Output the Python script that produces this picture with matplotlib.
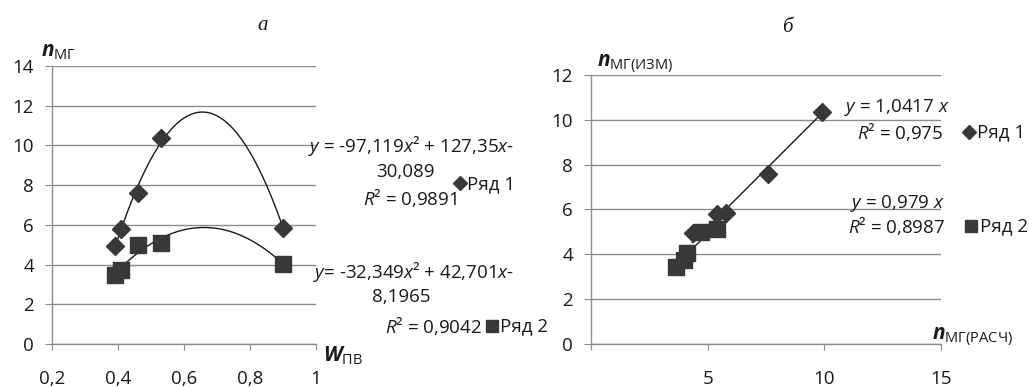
import numpy as np
import matplotlib
matplotlib.use("Agg")
import matplotlib.pyplot as plt
from matplotlib.lines import Line2D

plt.rcParams['font.family'] = ['Open Sans', 'DejaVu Sans']
plt.rcParams['mathtext.fontset'] = 'custom'
plt.rcParams['mathtext.rm'] = 'Open Sans'
plt.rcParams['mathtext.it'] = 'Open Sans:italic'
plt.rcParams['mathtext.bf'] = 'Open Sans:bold:italic'

# ---- data: panel a ----
w_pv = [0.39, 0.41, 0.46, 0.53, 0.90]
n_mg_1 = [4.95, 5.80, 7.60, 10.35, 5.85]
n_mg_2 = [3.45, 3.75, 5.00, 5.10, 4.05]
a_xticks = [0.2, 0.4, 0.6, 0.8, 1.0]
a_xticklabels = ['0,2', '0,4', '0,6', '0,8', '1']
a_yticks = [0, 2, 4, 6, 8, 10, 12, 14]

# ---- data: panel b ----
calc_1 = [4.35, 5.40, 5.80, 7.60, 9.90]
meas_1 = [4.95, 5.80, 5.85, 7.60, 10.35]
calc_2 = [3.65, 4.00, 4.10, 4.70, 5.40]
meas_2 = [3.45, 3.75, 4.05, 5.00, 5.15]
b_xticks = [0, 5, 10, 15]
b_xticklabels = ['', '5', '10', '15']
b_yticks = [0, 2, 4, 6, 8, 10, 12]

series_names = ['Ряд 1', 'Ряд 2']

MK = '#383838'
GRID = '#8c8c8c'
TXT = '#1a1a1a'
FS = 13.5

fig = plt.figure(figsize=(10.30, 3.87), dpi=100)

def style(ax, xlim, ylim, xticks, xticklabels, yticks):
    ax.set_xlim(*xlim)
    ax.set_ylim(*ylim)
    ax.set_xticks(xticks)
    ax.set_xticklabels(xticklabels)
    ax.set_yticks(yticks)
    ax.set_yticklabels([str(v) for v in yticks])
    for s in ['top', 'right']:
        ax.spines[s].set_visible(False)
    for s in ['left', 'bottom']:
        ax.spines[s].set_color(GRID)
        ax.spines[s].set_linewidth(1.0)
    ax.yaxis.grid(True, color=GRID, linewidth=1.0)
    ax.set_axisbelow(True)
    ax.tick_params(axis='y', length=5, color=GRID, labelsize=FS, labelcolor=TXT, pad=8)
    ax.tick_params(axis='x', length=4.5, color=GRID, labelsize=FS, labelcolor=TXT, pad=14)
    ax.patch.set_alpha(0)

# ---------------- panel a ----------------
axa = fig.add_axes([52/1030, 43/387, 264/1030, 278/387])
style(axa, (0.2, 1.0), (0, 14), a_xticks, a_xticklabels, a_yticks)

for xs, ys in [(w_pv, n_mg_1), (w_pv, n_mg_2)]:
    c = np.polyfit(xs, ys, 2)
    xx = np.linspace(min(xs), max(xs), 200)
    axa.plot(xx, np.polyval(c, xx), color='#1a1a1a', lw=1.0, zorder=3)
axa.plot(w_pv, n_mg_1, linestyle='none', marker='D', ms=9, color=MK, zorder=4)
axa.plot(w_pv, n_mg_2, linestyle='none', marker='s', ms=12, color=MK, zorder=4)

# ---------------- panel b ----------------
axb = fig.add_axes([591/1030, 43/387, 350/1030, 269/387])
style(axb, (0, 15), (0, 12), b_xticks, b_xticklabels, b_yticks)

for xs, ys in [(calc_1, meas_1), (calc_2, meas_2)]:
    xa = np.asarray(xs); ya = np.asarray(ys)
    k = np.sum(xa * ya) / np.sum(xa * xa)
    xx = np.array([xa.min(), xa.max()])
    axb.plot(xx, k * xx, color='#1a1a1a', lw=1.0, zorder=3)
axb.plot(calc_1, meas_1, linestyle='none', marker='D', ms=9, color=MK, zorder=4)
axb.plot(calc_2, meas_2, linestyle='none', marker='s', ms=12, color=MK, zorder=4)

# ---------------- text ----------------
def ftxt(x, y, s, **kw):
    kw.setdefault('fontsize', FS)
    kw.setdefault('color', TXT)
    kw.setdefault('va', 'center')
    fig.text(x / 1030, 1 - y / 387, s, **kw)

def fmark(x, y, marker, ms):
    fig.add_artist(Line2D([x / 1030], [1 - y / 387], marker=marker, ms=ms,
                          color=MK, linestyle='none', transform=fig.transFigure))

# panel titles
ftxt(263, 25, 'а', family='Liberation Serif', style='italic', ha='center', fontsize=15)
ftxt(787, 27, 'б', family='Liberation Serif', style='italic', ha='center', fontsize=15)

# axis labels
ftxt(41, 52, r'$\mathbf{n}_{\mathrm{МГ}}$', ha='left', fontsize=15)
ftxt(597, 64, r'$\mathbf{n}_{\mathrm{МГ(ИЗМ)}}$', ha='left', fontsize=15)
ftxt(323, 356, r'$\mathbf{W}_{\mathrm{ПВ}}$', ha='left', fontsize=15)
ftxt(932, 337, r'$\mathbf{n}_{\mathrm{МГ(РАСЧ)}}$', ha='left', fontsize=15)

# equations panel a
ftxt(514, 146, r'$y$ = -97,119$x$² + 127,35$x$-', ha='right')
ftxt(405, 172, '30,089', ha='center')
ftxt(457, 198, r'$R$² = 0,9891', ha='right')
ftxt(514, 272, r'$y$= -32,349$x$² + 42,701$x$-', ha='right')
ftxt(401, 297, '8,1965', ha='center')
ftxt(482, 326, r'$R$² = 0,9042', ha='right')

# equations panel b
ftxt(950, 108, r'$y$ = 1,0417 $x$', ha='right')
ftxt(943, 132, r'$R$² = 0,975', ha='right')
ftxt(945, 203, r'$y$ = 0,979 $x$', ha='right')
ftxt(945, 226, r'$R$² = 0,8987', ha='right')

# legends
fmark(460, 183, 'D', 7)
ftxt(467, 184, series_names[0], ha='left')
fmark(492, 326, 's', 9)
ftxt(500, 326, series_names[1], ha='left')
fmark(969, 132, 'D', 7)
ftxt(977, 132, series_names[0], ha='left')
fmark(971, 226, 's', 9)
ftxt(980, 226, series_names[1], ha='left')

fig.savefig('out.png', dpi=100)
